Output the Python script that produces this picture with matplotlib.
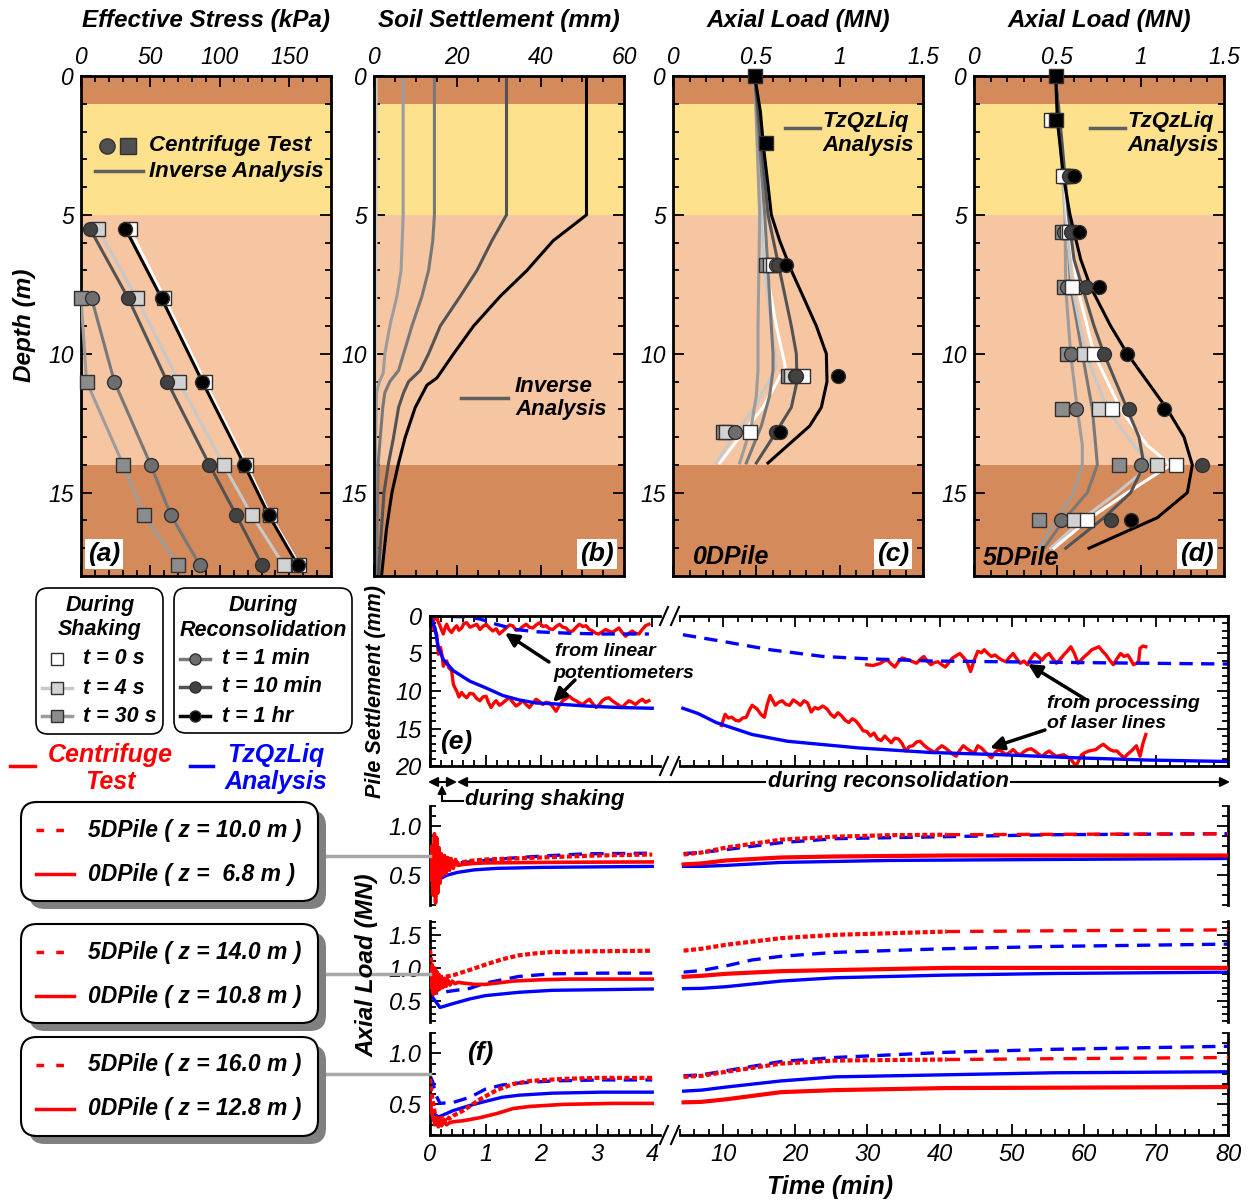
import matplotlib
matplotlib.use('Agg')
import matplotlib.pyplot as plt
from matplotlib.ticker import MultipleLocator, FormatStrFormatter, FuncFormatter
from matplotlib.patches import FancyBboxPatch

plt.rcParams['font.family'] = ['Liberation Sans', 'DejaVu Sans']
plt.rcParams['font.style'] = 'italic'

# ---------------- data: soil layers ----------------
layer_top = [0, 1, 5, 14]
layer_bot = [1, 5, 14, 18]
layer_col = ['#D58A5B', '#FDE18C', '#F6C5A2', '#D58A5B']

# ---------------- (a) effective stress ----------------
a_depth = [5.5, 8.0, 11.0, 14.0, 15.8, 17.6]
a_depth_b = [8.0, 11.0, 14.0, 15.8, 17.6]
a_0s = [35, 60, 89, 119, 136, 157]
a_4s = [12.4, 40, 70.5, 102.6, 122.9, 145.8]
a_30s = [0, 4, 30.4, 45.4, 69.8]
a_1m = [7.6, 24, 50.2, 64.6, 85.4]
a_10m = [6.5, 34, 62, 92.5, 111.7, 130.3]
a_1h = [32, 58, 87.3, 117.6, 135.1, 155.9]

# ---------------- (b) soil settlement ----------------
b_d_1h = [0, 5, 5.93, 7.0, 7.93, 9.0, 10.0, 10.87, 11.13, 11.93, 13.0, 13.93, 15.0, 16.3, 18]
b_1h = [51, 51, 43, 36.7, 30.3, 23.9, 19.1, 15.1, 12.7, 9.9, 7.5, 5.9, 4.3, 3.0, 1.8]
b_d_10m = [0, 5, 5.93, 7.0, 7.93, 9.0, 10.0, 10.6, 11.0, 11.4, 11.93, 13.0, 13.93, 15.0, 18]
b_10m = [31.8, 31.8, 28.3, 24.7, 20.7, 15.9, 13.1, 11.1, 8.3, 7.1, 5.9, 4.7, 3.5, 2.4, 1.0]
b_d_1m = [0, 5, 5.93, 7.0, 7.93, 9.0, 10.0, 10.6, 11.0, 11.4, 11.93, 13.93, 18]
b_1m = [14.5, 14.5, 14.1, 13.1, 11.5, 9.1, 7.1, 5.9, 3.8, 2.6, 2.1, 1.0, 0.6]
b_d_30s = [0, 5, 7.0, 7.93, 9.0, 10.0, 10.7, 11.0, 11.4, 13.93, 18]
b_30s = [7.0, 7.0, 6.5, 5.5, 3.8, 2.6, 2.2, 1.3, 0.6, 0.3, 0.2]
b_d_4s = [0, 5, 10, 11, 18]
b_4s = [0.5, 0.5, 0.4, 0.2, 0.1]

# ---------------- (c) 0DPile axial load ----------------
c_d_1h = [0, 1.27, 2.6, 3.93, 5, 5.93, 7, 7.93, 9, 10, 11, 11.93, 12.6, 13.93]
c_1h = [0.49, 0.524, 0.544, 0.57, 0.59, 0.64, 0.71, 0.78, 0.86, 0.92, 0.924, 0.89, 0.82, 0.57]
c_d_10m = [0, 2.5, 5, 7, 9, 10, 11, 11.93, 13, 13.93]
c_10m = [0.49, 0.53, 0.57, 0.64, 0.71, 0.74, 0.744, 0.71, 0.6, 0.5]
c_d_1m = [0, 2.5, 5, 7, 9, 10, 10.6, 11.5, 12.6, 13.93]
c_1m = [0.49, 0.52, 0.55, 0.57, 0.59, 0.60, 0.60, 0.58, 0.53, 0.44]
c_d_30s = [0, 5, 9, 10.6, 11.5, 12.6, 13.93]
c_30s = [0.49, 0.52, 0.51, 0.51, 0.50, 0.47, 0.40]
c_d_0s = [0, 5, 7, 9, 10.47, 11.93, 13, 13.93]
c_0s = [0.49, 0.54, 0.56, 0.62, 0.674, 0.54, 0.40, 0.28]
c_d_4s = [0, 5, 7, 9, 10.47, 11.93, 13, 13.93]
c_4s = [0.49, 0.53, 0.55, 0.59, 0.62, 0.49, 0.36, 0.26]
# measured
c_md = [6.8, 10.8, 12.8]
c_m30s = [0.56, 0.69, 0.30]
c_m4s = [0.58, 0.71, 0.32]
c_m0s = [0.60, 0.78, 0.46]
c_m1m = [0.62, 0.73, 0.37]
c_m10m = [0.63, 0.74, 0.62]
c_m1h = [0.68, 0.99, 0.64]
c_head_d = [0, 2.4]
c_head = [0.49, 0.56]

# ---------------- (d) 5DPile axial load ----------------
d_d_1h = [0, 1.6, 3.6, 5, 5.6, 6.6, 7.6, 9, 10, 11, 12, 13, 14, 15, 15.9, 17]
d_1h = [0.49, 0.5, 0.536, 0.576, 0.6, 0.64, 0.70, 0.82, 0.92, 1.04, 1.16, 1.26, 1.31, 1.28, 1.10, 0.69]
d_d_10m = [0, 2.5, 5, 6.6, 7.6, 9, 10, 12, 13, 14, 15, 15.9, 17]
d_10m = [0.49, 0.53, 0.566, 0.6, 0.65, 0.72, 0.78, 0.92, 0.99, 1.02, 0.94, 0.78, 0.55]
d_d = [0, 2.5, 5, 7.6, 10, 12, 13.3, 14, 15, 15.9, 17]
d_0s = [0.49, 0.53, 0.56, 0.62, 0.72, 0.88, 1.04, 1.18, 0.92, 0.70, 0.48]
d_4s = [0.49, 0.52, 0.55, 0.59, 0.67, 0.80, 0.96, 1.06, 0.86, 0.66, 0.46]
d_1m = [0.49, 0.52, 0.556, 0.58, 0.65, 0.71, 0.73, 0.74, 0.68, 0.55, 0.42]
d_30s = [0.49, 0.52, 0.546, 0.55, 0.58, 0.62, 0.65, 0.65, 0.60, 0.50, 0.39]
d_md = [3.6, 5.6, 7.6, 10, 12, 14, 16]
d_m30s = [0.55, 0.53, 0.54, 0.556, 0.53, 0.87, 0.39]
d_m1m = [0.56, 0.54, 0.56, 0.58, 0.61, 1.00, 0.52]
d_m4s = [0.55, 0.56, 0.60, 0.66, 0.75, 1.10, 0.60]
d_m0s = [0.536, 0.57, 0.59, 0.72, 0.83, 1.21, 0.68]
d_m10m = [0.57, 0.58, 0.67, 0.78, 0.93, 1.37, 0.82]
d_m1h = [0.60, 0.63, 0.75, 0.92, 1.14, float('nan'), 0.94]
d_head_d = [0, 1.6, 1.6]
d_head = [0.49, 0.49, 0.46]

# ---------------- (e) pile settlement vs time ----------------
e_up_t = [0, 0.03, 0.06, 0.09, 0.12, 0.15, 0.18, 0.21, 0.24, 0.27, 0.3, 0.34, 0.39, 0.43, 0.48, 0.52,
          0.57, 0.61, 0.66, 0.72, 0.78, 0.84, 0.9, 0.95, 1.01, 1.07, 1.13, 1.19, 1.25, 1.31, 1.37,
          1.43, 1.49, 1.55, 1.61, 1.67, 1.73, 1.79, 1.85, 1.91, 1.97, 2.03, 2.09, 2.15, 2.21, 2.27,
          2.33, 2.39, 2.45, 2.51, 2.57, 2.63, 2.69, 2.75, 2.81, 2.87, 2.93, 2.98, 3.04, 3.1, 3.16,
          3.22, 3.28, 3.34, 3.4, 3.46, 3.52, 3.58, 3.64, 3.7, 3.76, 3.82, 3.88, 3.94]
e_up = [0, 0.9, 0.7, 0.3, 0.2, 0.8, 1.3, 1.9, 2.4, 1.6, 1.1, 1.8, 2.2, 1.7, 1.3, 1.9,
        1.6, 1.0, 0.9, 1.5, 1.3, 1.1, 1.8, 1.4, 1.1, 1.6, 2.0, 1.7, 2.4, 2.0, 1.6,
        1.2, 1.3, 1.9, 1.8, 1.4, 1.1, 1.5, 1.6, 1.2, 0.9, 1.4, 1.3, 1.7, 1.8, 1.4,
        1.1, 1.5, 1.6, 2.1, 2.0, 1.5, 1.1, 1.4, 1.3, 1.8, 2.0, 2.3, 2.4, 2.1, 1.8,
        2.0, 2.2, 1.9, 1.6, 2.2, 2.7, 2.3, 2.0, 2.3, 2.4, 1.8, 1.3, 1.1]
e_lo_t = [0, 0.03, 0.06, 0.09, 0.12, 0.15, 0.19, 0.22, 0.24, 0.27, 0.3, 0.34, 0.39, 0.42, 0.45,
          0.48, 0.52, 0.57, 0.61, 0.66, 0.72, 0.78, 0.84, 0.9, 0.95, 1.01, 1.05, 1.1, 1.15, 1.19,
          1.25, 1.31, 1.37, 1.43, 1.49, 1.55, 1.61, 1.67, 1.73, 1.79, 1.85, 1.91, 1.97, 2.03,
          2.09, 2.15, 2.21, 2.27, 2.33, 2.39, 2.45, 2.51, 2.57, 2.63, 2.69, 2.75, 2.81, 2.87,
          2.93, 2.99, 3.05, 3.1, 3.16, 3.22, 3.28, 3.34, 3.4, 3.46, 3.52, 3.58, 3.64, 3.7, 3.76,
          3.82, 3.88, 3.94]
e_lo = [0.2, 0.9, 1.6, 2.0, 2.4, 5.1, 4.2, 5.5, 6.7, 6.2, 6.0, 6.9, 7.3, 9.1, 9.6,
        10.0, 10.8, 10.2, 10.6, 10.9, 10.3, 10.4, 11.0, 11.3, 10.8, 10.7, 11.5, 12.2, 11.6, 11.3,
        11.9, 11.6, 11.2, 10.9, 11.5, 12.0, 11.7, 11.3, 11.8, 12.2, 11.6, 11.1, 11.4, 11.8,
        11.5, 11.6, 12.1, 12.7, 11.9, 11.3, 11.0, 10.7, 11.1, 11.3, 11.6, 11.8, 11.4, 11.1,
        11.7, 12.2, 11.8, 11.3, 11.0, 10.9, 11.3, 11.6, 11.9, 12.2, 11.7, 11.3, 11.5, 11.8, 11.4,
        11.1, 11.5, 11.3]
e_bs_t = [0, 0.09, 0.15, 0.24, 0.42, 0.72, 1.01, 1.31, 1.61, 1.91, 2.21, 2.81, 3.4, 4.0]
e_bs = [0, 1.6, 4.2, 5.8, 7.3, 8.7, 9.6, 10.6, 11.2, 11.6, 11.7, 12.0, 12.2, 12.3]
e_bd_t = [0, 0.6, 0.9, 1.19, 1.55, 1.91, 2.5, 3.1, 3.94]
e_bd = [0, 0.1, 0.4, 1.1, 1.8, 2.1, 2.3, 2.4, 2.4]
# reconsolidation (laser lines)
e_rup_t = [29.9, 30.8, 31.8, 32.3, 32.8, 33.3, 33.8, 34.3, 34.8, 35.8, 36.8, 37.3, 37.8, 38.3, 38.8,
           39.3, 39.8, 40.3, 40.8, 41.3, 41.8, 42.3, 42.8, 43.3, 43.8, 44.3, 44.8, 45.3, 45.8,
           46.2, 46.7, 47.2, 47.7, 48.2, 48.7, 49.2, 49.7, 50.2, 50.7, 51.2, 51.7, 52.2, 52.7,
           53.2, 53.7, 54.2, 54.7, 55.2, 55.7, 56.2, 56.7, 57.2, 57.7, 58.2, 58.7, 59.2, 59.7,
           60.1, 60.6, 61.1, 61.6, 62.1, 62.6, 63.1, 63.6, 64.1, 64.6, 65.1, 65.6, 66.1, 66.5,
           66.9, 67.3, 67.6, 67.8, 68.2, 68.6]
e_rup = [6.5, 6.6, 6.3, 6.0, 5.9, 6.4, 6.8, 6.1, 5.6, 5.9, 6.3, 5.8, 5.4, 6.0, 6.5,
         6.2, 6.1, 6.5, 6.8, 6.2, 5.6, 5.3, 5.0, 5.5, 6.1, 7.4, 5.9, 4.7, 4.9,
         4.5, 5.0, 5.4, 5.2, 5.6, 5.9, 6.1, 5.5, 5.0, 5.7, 6.3, 6.0, 6.5, 5.6,
         5.0, 5.4, 5.9, 5.3, 5.0, 5.7, 6.3, 5.8, 5.2, 4.7, 4.1, 5.0, 6.3, 5.8,
         5.4, 5.0, 4.5, 4.3, 4.1, 4.7, 5.2, 5.9, 6.5, 5.7, 5.0, 5.4, 5.2, 5.8,
         6.5, 6.3, 6.1, 4.3, 4.0, 4.1]
e_rlo_t = [9.75, 10.25, 10.7, 11.2, 11.7, 12.2, 12.7, 13.2, 13.6, 14.0, 14.7, 15.2, 15.7, 16.1,
           16.5, 17.2, 17.7, 18.2, 18.7, 19.2, 19.7, 20.2, 20.7, 21.2, 21.7, 22.2, 22.7, 23.2,
           23.8, 24.4, 24.9, 25.4, 25.9, 26.4, 26.9, 27.4, 27.9, 28.4, 28.9, 29.4, 29.9, 30.4,
           30.9, 31.4, 31.9, 32.4, 32.9, 33.3, 33.8, 34.3, 34.8, 35.3, 35.8, 36.3, 36.8, 37.3,
           37.8, 38.3, 38.8, 39.3, 39.8, 40.3, 40.8, 41.3, 41.8, 42.3, 42.8, 43.3, 43.8, 44.3,
           44.8, 45.3, 45.8, 46.2, 46.7, 47.2, 47.7, 48.2, 48.7, 49.2, 49.7, 50.2, 50.7, 51.2,
           51.7, 52.2, 52.7, 53.2, 53.7, 54.2, 54.7, 55.2, 55.7, 56.2, 56.7, 57.2, 57.7, 58.2,
           58.9, 59.7, 60.2, 60.7, 61.2, 61.7, 62.2, 62.7, 63.2, 63.6, 64.1, 64.6, 65.1, 65.6,
           66.1, 66.6, 67.3, 67.8, 68.2, 68.6]
e_rlo = [14.6, 13.1, 13.6, 13.5, 13.9, 14.0, 13.6, 13.5, 12.6, 11.9, 12.4, 13.1, 13.5, 11.8,
         10.6, 11.9, 11.5, 11.3, 11.8, 11.9, 11.2, 11.5, 11.9, 11.3, 11.6, 12.8, 12.2, 12.4,
         12.0, 12.4, 13.1, 13.5, 12.9, 13.3, 13.9, 14.2, 13.7, 14.0, 14.6, 15.3, 15.4, 16.0,
         15.6, 16.4, 16.6, 16.0, 16.5, 16.9, 16.3, 16.4, 17.0, 18.0, 17.4, 17.3, 16.8, 16.7,
         17.2, 17.6, 17.9, 18.2, 17.7, 17.3, 17.6, 18.0, 18.4, 18.7, 17.9, 17.3, 17.7, 18.0,
         18.3, 17.3, 17.6, 18.0, 18.5, 18.9, 18.2, 17.8, 18.1, 18.5, 18.2, 17.8, 18.3, 18.5,
         18.1, 17.8, 17.7, 18.0, 18.4, 18.7, 18.3, 18.0, 18.4, 18.7, 18.6, 18.5, 18.8, 19.1,
         20.0, 18.5, 18.2, 18.0, 17.9, 17.8, 17.4, 17.1, 17.5, 17.8, 18.0, 18.0, 18.5, 18.9,
         18.4, 18.0, 17.3, 18.7, 17.0, 15.8]
e_rbs_t = [4.4, 6.5, 9.0, 14.0, 18.9, 28.9, 38.8, 48.7, 58.7, 68.6, 80]
e_rbs = [12.3, 13.0, 14.2, 15.8, 16.7, 17.6, 18.2, 18.5, 18.9, 19.2, 19.4]
e_rbd_t = [4.4, 10, 16.5, 23.9, 29.9, 38.8, 48.7, 58.7, 68.6, 80]
e_rbd = [2.5, 3.4, 4.5, 5.4, 5.7, 6.0, 6.1, 6.2, 6.3, 6.4]

# ---------------- (f) axial load vs time ----------------
# row 1: 5DPile z=10.0 m / 0DPile z=6.8 m
f1_rs_t = [0, 0.02, 0.04, 0.06, 0.08, 0.10, 0.12, 0.14, 0.16, 0.18, 0.20, 0.23, 0.26, 0.29, 0.32,
           0.35, 0.38, 0.42, 0.46, 0.5, 0.6, 0.8, 1.0, 2.0, 3.0, 4.0]
f1_rs = [0.62, 0.45, 0.80, 0.30, 0.92, 0.22, 0.88, 0.32, 0.78, 0.42, 0.72, 0.50, 0.70, 0.52, 0.68,
         0.55, 0.67, 0.57, 0.66, 0.60, 0.61, 0.62, 0.625, 0.63, 0.633, 0.635]
f1_rd_t = [0, 0.05, 0.1, 0.15, 0.2, 0.3, 0.4, 0.5, 0.7, 1.0, 1.5, 2.0, 3.0, 4.0]
f1_rd = [0.62, 0.55, 0.62, 0.56, 0.63, 0.60, 0.64, 0.62, 0.645, 0.66, 0.67, 0.68, 0.70, 0.71]
f1_bs_t = [0, 0.05, 0.12, 0.2, 0.3, 0.5, 0.8, 1.2, 2.0, 3.0, 4.0]
f1_bs = [0.55, 0.50, 0.45, 0.47, 0.50, 0.53, 0.555, 0.57, 0.58, 0.585, 0.59]
f1_bd_t = [0, 0.05, 0.1, 0.42, 1.0, 1.6, 2.2, 2.8, 4.0]
f1_bd = [0.75, 0.65, 0.58, 0.62, 0.65, 0.68, 0.70, 0.717, 0.723]
f1_Rrd_t = [4.5, 7.0, 10.4, 18, 25.5, 33, 41]
f1_Rrd = [0.71, 0.73, 0.78, 0.86, 0.89, 0.905, 0.91]
f1_Xrd_t = [41, 60, 80]
f1_Xrd = [0.91, 0.915, 0.92]
f1_Rrs_t = [4.5, 7.0, 10.4, 18, 25.5, 41, 80]
f1_Rrs = [0.61, 0.62, 0.65, 0.68, 0.69, 0.70, 0.70]
f1_Rbd_t = [4.5, 7.0, 10.4, 18, 25.5, 40.7, 55.8, 80]
f1_Rbd = [0.72, 0.73, 0.76, 0.83, 0.87, 0.89, 0.91, 0.92]
f1_Rbs_t = [4.5, 7.0, 10.4, 18, 33, 55.8, 80]
f1_Rbs = [0.59, 0.59, 0.60, 0.63, 0.65, 0.66, 0.67]
# row 2: 5DPile z=14.0 m / 0DPile z=10.8 m
f2_rs_t = [0, 0.02, 0.04, 0.06, 0.08, 0.10, 0.12, 0.14, 0.16, 0.18, 0.20, 0.23, 0.26, 0.29, 0.32,
           0.36, 0.40, 0.45, 0.5, 0.6, 0.8, 1.0, 1.2, 1.5, 2.0, 2.5, 3.0, 4.0]
f2_rs = [0.95, 0.70, 1.05, 0.60, 1.00, 0.62, 0.95, 0.66, 0.90, 0.68, 0.86, 0.70, 0.84, 0.72, 0.82,
         0.74, 0.80, 0.76, 0.78, 0.77, 0.75, 0.75, 0.77, 0.80, 0.82, 0.83, 0.83, 0.83]
f2_rd_t = [0, 0.03, 0.06, 0.1, 0.15, 0.2, 0.3, 0.42, 0.72, 1.0, 1.3, 1.6, 1.9, 2.2, 2.8, 4.0]
f2_rd = [1.27, 1.05, 0.95, 0.88, 0.85, 0.86, 0.87, 0.89, 0.97, 1.05, 1.13, 1.19, 1.22, 1.24, 1.25, 1.26]
f2_bs_t = [0, 0.05, 0.18, 0.42, 0.72, 1.0, 1.6, 2.2, 3.1, 4.0]
f2_bs = [0.67, 0.55, 0.40, 0.46, 0.53, 0.58, 0.63, 0.66, 0.67, 0.68]
f2_bd_t = [0, 0.05, 0.12, 0.3, 0.72, 1.0, 1.3, 1.6, 2.2, 3.1, 4.0]
f2_bd = [1.12, 0.85, 0.62, 0.64, 0.69, 0.77, 0.82, 0.87, 0.91, 0.92, 0.92]
f2_Rrd_t = [4.5, 7.0, 10.4, 18, 25.5, 41]
f2_Rrd = [1.26, 1.29, 1.35, 1.45, 1.50, 1.55]
f2_Xrd_t = [41, 60, 80]
f2_Xrd = [1.55, 1.565, 1.575]
f2_Rrs_t = [4.5, 7.0, 10.4, 18, 41, 80]
f2_Rrs = [0.865, 0.88, 0.91, 0.95, 1.0, 1.0]
f2_Rbd_t = [4.5, 7.0, 10.4, 14, 18, 25.5, 40.7, 55.8, 80]
f2_Rbd = [0.935, 0.96, 1.03, 1.12, 1.175, 1.235, 1.29, 1.325, 1.36]
f2_Rbs_t = [4.5, 7.0, 10.4, 18, 25.5, 40.7, 55.8, 80]
f2_Rbs = [0.685, 0.69, 0.715, 0.80, 0.85, 0.89, 0.915, 0.935]
# row 3: 5DPile z=16.0 m / 0DPile z=12.8 m
f3_rs_t = [0, 0.03, 0.06, 0.09, 0.12, 0.15, 0.18, 0.21, 0.25, 0.3, 0.35, 0.42, 0.6, 0.9, 1.2,
           1.5, 1.8, 2.4, 3.3, 4.0]
f3_rs = [0.55, 0.42, 0.36, 0.30, 0.36, 0.28, 0.34, 0.29, 0.33, 0.30, 0.32, 0.33, 0.34, 0.37, 0.41,
         0.46, 0.48, 0.50, 0.51, 0.51]
f3_rd_t = [0, 0.03, 0.06, 0.09, 0.12, 0.15, 0.18, 0.22, 0.26, 0.3, 0.35, 0.42, 0.6, 0.9, 1.2,
           1.5, 1.8, 2.4, 3.0, 4.0]
f3_rd = [0.75, 0.60, 0.50, 0.40, 0.35, 0.38, 0.32, 0.37, 0.33, 0.38, 0.36, 0.39, 0.44, 0.55, 0.64,
         0.70, 0.73, 0.75, 0.76, 0.76]
f3_bs_t = [0, 0.05, 0.15, 0.42, 0.72, 1.0, 1.3, 1.6, 2.2, 3.1, 4.0]
f3_bs = [0.46, 0.42, 0.376, 0.44, 0.49, 0.53, 0.57, 0.59, 0.61, 0.62, 0.62]
f3_bd_t = [0, 0.05, 0.1, 0.18, 0.42, 0.72, 1.0, 1.3, 1.6, 2.2, 3.1, 4.0]
f3_bd = [0.78, 0.72, 0.60, 0.51, 0.52, 0.57, 0.65, 0.69, 0.71, 0.73, 0.74, 0.74]
f3_Rrd_t = [4.5, 7.0, 10.4, 18, 25.5, 41]
f3_Rrd = [0.77, 0.78, 0.82, 0.90, 0.93, 0.94]
f3_Xrd_t = [41, 60, 80]
f3_Xrd = [0.94, 0.95, 0.96]
f3_Rrs_t = [4.5, 7.0, 10.4, 18, 25.5, 40.7, 80]
f3_Rrs = [0.52, 0.525, 0.55, 0.62, 0.64, 0.66, 0.67]
f3_Rbd_t = [4.5, 7.0, 10.4, 18, 25.5, 40.7, 55.8, 80]
f3_Rbd = [0.78, 0.79, 0.83, 0.92, 0.96, 1.01, 1.04, 1.07]
f3_Rbs_t = [4.5, 7.0, 10.4, 18, 25.5, 40.7, 55.8, 80]
f3_Rbs = [0.63, 0.64, 0.67, 0.73, 0.77, 0.79, 0.81, 0.82]

f_box_labels = [("5DPile ( z = 10.0 m )", "0DPile ( z =  6.8 m )"),
                ("5DPile ( z = 14.0 m )", "0DPile ( z = 10.8 m )"),
                ("5DPile ( z = 16.0 m )", "0DPile ( z = 12.8 m )")]

# ---------------- styling ----------------
C0, C4, C30, C1M, C10, C1H = 'white', '#C8C8C8', '#9C9C9C', '#787878', '#535353', 'black'
M4, M30, M1M, M10 = '#D2D2D2', '#8C8C8C', '#6E6E6E', '#424242'
RED, BLUE = '#FF0000', '#0000FF'
BI = dict(fontweight='bold', fontstyle='italic')

W, H = 1255, 1201
fig = plt.figure(figsize=(W / 100, H / 100), dpi=100)


def px_ax(l, t, r, b):
    return fig.add_axes([l / W, 1 - b / H, (r - l) / W, (b - t) / H])


def top_panel(l, xmax, xmaj, xmin, fmt):
    ax = px_ax(l, 76, l + 250, 576)
    for t0, b0, c in zip(layer_top, layer_bot, layer_col):
        ax.axhspan(t0, b0, color=c, lw=0, zorder=0)
    ax.set_xlim(0, xmax)
    ax.set_ylim(18, 0)
    ax.xaxis.set_major_locator(MultipleLocator(xmaj))
    ax.xaxis.set_minor_locator(MultipleLocator(xmin))
    ax.yaxis.set_major_locator(MultipleLocator(5))
    ax.yaxis.set_minor_locator(MultipleLocator(1))
    ax.xaxis.set_major_formatter(FuncFormatter(fmt))
    ax.tick_params(which='both', direction='in', top=True, bottom=True, left=True, right=True,
                   labeltop=True, labelbottom=False, labelsize=16.5, width=1.3, pad=5)
    ax.tick_params(which='major', length=8)
    ax.tick_params(which='minor', length=4)
    for s in ax.spines.values():
        s.set_linewidth(2)
    return ax


def mk(ax, x, y, m, fc, ms=10, z=5):
    ax.plot(x, y, ls='none', marker=m, ms=ms, mfc=fc, mec='#303030', mew=1, zorder=z, clip_on=False)


# (a)
axA = top_panel(81, 180, 50, 10, lambda v, p: '%d' % v)
axA.plot(a_0s, a_depth, color=C0, lw=2.2, zorder=3)
axA.plot(a_4s, a_depth, color=C4, lw=2.2, zorder=3)
axA.plot(a_30s, a_depth_b, color=C30, lw=2.2, zorder=3)
axA.plot(a_1m, a_depth_b, color=C1M, lw=2.2, zorder=3)
axA.plot(a_10m, a_depth, color=C10, lw=2.2, zorder=3)
axA.plot(a_1h, a_depth, color=C1H, lw=2.2, zorder=3)
mk(axA, a_0s, a_depth, 's', 'white')
mk(axA, a_4s, a_depth, 's', M4)
mk(axA, a_30s, a_depth_b, 's', M30)
mk(axA, a_1m, a_depth_b, 'o', M1M)
mk(axA, a_10m, a_depth, 'o', M10)
mk(axA, a_1h, a_depth, 'o', 'black')

# (b)
axB = top_panel(374, 60, 20, 5, lambda v, p: '%d' % v)
axB.plot(b_4s, b_d_4s, color=C4, lw=2.2)
axB.plot(b_30s, b_d_30s, color=C30, lw=2.2)
axB.plot(b_1m, b_d_1m, color=C1M, lw=2.2)
axB.plot(b_10m, b_d_10m, color=C10, lw=2.2)
axB.plot(b_1h, b_d_1h, color=C1H, lw=2.2)

# (c)
axC = top_panel(673, 1.5, 0.5, 0.1, lambda v, p: '%g' % v)
axC.plot(c_0s, c_d_0s, color=C0, lw=2.2)
axC.plot(c_4s, c_d_4s, color=C4, lw=2.2)
axC.plot(c_30s, c_d_30s, color=C30, lw=2.2)
axC.plot(c_1m, c_d_1m, color=C1M, lw=2.2)
axC.plot(c_10m, c_d_10m, color=C10, lw=2.2)
axC.plot(c_1h, c_d_1h, color=C1H, lw=2.2)
mk(axC, c_m30s, c_md, 's', M30)
mk(axC, c_m4s, c_md, 's', M4)
mk(axC, c_m0s, c_md, 's', 'white')
mk(axC, c_m1m, c_md, 'o', M1M)
mk(axC, c_m10m, c_md, 'o', M10)
mk(axC, c_m1h, c_md, 'o', 'black')
mk(axC, c_head, c_head_d, 's', 'black')

# (d)
axD = top_panel(974, 1.5, 0.5, 0.1, lambda v, p: '%g' % v)
axD.plot(d_30s, d_d, color=C30, lw=2.2)
axD.plot(d_1m, d_d, color=C1M, lw=2.2)
axD.plot(d_4s, d_d, color=C4, lw=2.2)
axD.plot(d_0s, d_d, color=C0, lw=2.2)
axD.plot(d_10m, d_d_10m, color=C10, lw=2.2)
axD.plot(d_1h, d_d_1h, color=C1H, lw=2.2)
mk(axD, d_m30s, d_md, 's', M30)
mk(axD, d_m1m, d_md, 'o', M1M)
mk(axD, d_m4s, d_md, 's', M4)
mk(axD, d_m0s, d_md, 's', 'white')
mk(axD, d_m10m, d_md, 'o', M10)
mk(axD, d_m1h, d_md, 'o', 'black')
mk(axD, d_head[2:], d_head_d[2:], 's', 'white')
mk(axD, d_head[:2], d_head_d[:2], 's', 'black')


# ---------------- bottom panels ----------------
def bottom_pair(t, b, ylim, ymaj, ymin, box=False, xlabels=False):
    aL = px_ax(430, t, 660, b)
    aR = px_ax(680, t, 1228, b)
    aL.set_xlim(0, 4.14)
    aR.set_xlim(4, 80)
    for a in (aL, aR):
        a.set_ylim(*ylim)
        a.patch.set_alpha(0)
        a.yaxis.set_major_locator(MultipleLocator(ymaj))
        a.yaxis.set_minor_locator(MultipleLocator(ymin))
        for s in a.spines.values():
            s.set_linewidth(2)
        a.tick_params(which='major', length=8, width=1.3, labelsize=17)
        a.tick_params(which='minor', length=4, width=1.3)
    aL.xaxis.set_major_locator(MultipleLocator(1))
    aL.xaxis.set_minor_locator(MultipleLocator(0.2))
    aR.xaxis.set_major_locator(MultipleLocator(10))
    aR.xaxis.set_minor_locator(MultipleLocator(2))
    aR.xaxis.set_major_formatter(FormatStrFormatter('%d'))
    aL.spines['right'].set_visible(False)
    aR.spines['left'].set_visible(False)
    aL.tick_params(which='both', direction='in', left=True, right=False, top=box, bottom=box or xlabels,
                   labelbottom=xlabels, pad=6)
    aR.tick_params(which='both', direction='in', left=False, right=True, labelleft=False, top=box,
                   bottom=box or xlabels, labelbottom=xlabels, pad=6)
    if not box:
        for a in (aL, aR):
            a.spines['top'].set_visible(False)
            if not xlabels:
                a.spines['bottom'].set_visible(False)
    return aL, aR


eL, eR = bottom_pair(616, 766, (20, 0), 5, 1, box=True)
eL.yaxis.set_major_formatter(FormatStrFormatter('%d'))
eL.plot(e_up_t, e_up, color=RED, lw=2.4)
eL.plot(e_lo_t, e_lo, color=RED, lw=2.4)
eL.plot(e_bs_t, e_bs, color=BLUE, lw=2.4)
eL.plot(e_bd_t, e_bd, color=BLUE, lw=2.4, dashes=(4, 2.5))
eR.plot(e_rup_t, e_rup, color=RED, lw=2.4)
eR.plot(e_rlo_t, e_rlo, color=RED, lw=2.4)
eR.plot(e_rbs_t, e_rbs, color=BLUE, lw=2.4)
eR.plot(e_rbd_t, e_rbd, color=BLUE, lw=2.4, dashes=(4, 2.5))

rows = [
    (806, 905, (0.2, 1.2), f1_rs_t, f1_rs, f1_rd_t, f1_rd, f1_bs_t, f1_bs, f1_bd_t, f1_bd,
     f1_Rrd_t, f1_Rrd, f1_Xrd_t, f1_Xrd, f1_Rrs_t, f1_Rrs, f1_Rbd_t, f1_Rbd, f1_Rbs_t, f1_Rbs),
    (921, 1022, (0.18, 1.71), f2_rs_t, f2_rs, f2_rd_t, f2_rd, f2_bs_t, f2_bs, f2_bd_t, f2_bd,
     f2_Rrd_t, f2_Rrd, f2_Xrd_t, f2_Xrd, f2_Rrs_t, f2_Rrs, f2_Rbd_t, f2_Rbd, f2_Rbs_t, f2_Rbs),
    (1033, 1135, (0.2, 1.2), f3_rs_t, f3_rs, f3_rd_t, f3_rd, f3_bs_t, f3_bs, f3_bd_t, f3_bd,
     f3_Rrd_t, f3_Rrd, f3_Xrd_t, f3_Xrd, f3_Rrs_t, f3_Rrs, f3_Rbd_t, f3_Rbd, f3_Rbs_t, f3_Rbs),
]
for i, row in enumerate(rows):
    (t, b, yl, rs_t, rs, rd_t, rd, bs_t, bs, bd_t, bd,
     Rrd_t, Rrd, Xrd_t, Xrd, Rrs_t, Rrs, Rbd_t, Rbd, Rbs_t, Rbs) = row
    aL, aR = bottom_pair(t, b, yl, 0.5, 0.1, xlabels=(i == 2))
    aL.yaxis.set_major_formatter(FormatStrFormatter('%.1f'))
    aL.plot(bs_t, bs, color=BLUE, lw=2.4, zorder=2)
    aL.plot(bd_t, bd, color=BLUE, lw=2.4, dashes=(4, 2.5), zorder=2)
    aL.plot(rd_t, rd, color=RED, lw=3.0, dashes=(1.2, 0.6), zorder=3)
    aL.plot(rs_t, rs, color=RED, lw=2.6, zorder=3)
    aR.plot(Rbs_t, Rbs, color=BLUE, lw=2.4, zorder=2)
    aR.plot(Rbd_t, Rbd, color=BLUE, lw=2.4, dashes=(4, 2.5), zorder=2)
    aR.plot(Rrd_t, Rrd, color=RED, lw=3.0, dashes=(1.2, 0.6), zorder=3)
    aR.plot(Xrd_t, Xrd, color=RED, lw=2.4, dashes=(4, 3), zorder=3)
    aR.plot(Rrs_t, Rrs, color=RED, lw=3.0, zorder=3)

# ---------------- overlay (pixel coordinates) ----------------
ov = fig.add_axes([0, 0, 1, 1])
ov.set_xlim(0, W)
ov.set_ylim(H, 0)
ov.axis('off')
ov.set_zorder(10)

# titles & axis labels
for xc, s in [(206, 'Effective Stress (kPa)'), (499, 'Soil Settlement (mm)'),
              (798, 'Axial Load (MN)'), (1099, 'Axial Load (MN)')]:
    ov.text(xc, 20, s, ha='center', va='center', fontsize=17.5, **BI)
ov.text(25, 325, 'Depth (m)', rotation=90, ha='center', va='center', fontsize=17.5, **BI)
ov.text(375, 692, 'Pile Settlement (mm)', rotation=90, ha='center', va='center', fontsize=15.5, **BI)
ov.text(367, 965, 'Axial Load (MN)', rotation=90, ha='center', va='center', fontsize=17.5, **BI)
ov.text(830, 1187, 'Time (min)', ha='center', va='center', fontsize=18, **BI)

# panel labels
for xc, s in [(104, '(a)'), (597, '(b)'), (893, '(c)'), (1197, '(d)')]:
    ov.text(xc, 554, s, ha='center', va='center', fontsize=19, **BI,
            bbox=dict(boxstyle='square,pad=0.12', fc='white', ec='none'))
ov.text(693, 557, '0DPile', ha='left', va='center', fontsize=18, **BI)
ov.text(983, 558, '5DPile', ha='left', va='center', fontsize=18, **BI)
ov.text(440, 742, '(e)', ha='left', va='center', fontsize=19, **BI)
ov.text(467, 1053, '(f)', ha='left', va='center', fontsize=19, **BI)

# (a) legend
ov.plot([107], [146], marker='o', ms=11, mfc='#505050', mec='#333333')
ov.plot([128], [146], marker='s', ms=11, mfc='#505050', mec='#333333')
ov.plot([95, 143], [171, 171], color='#606060', lw=2.5)
ov.text(149, 146, 'Centrifuge Test', ha='left', va='center', fontsize=16, **BI)
ov.text(149, 171, 'Inverse Analysis', ha='left', va='center', fontsize=16, **BI)
# (b) legend
ov.plot([461, 508], [398, 398], color='#606060', lw=2.5)
ov.text(515, 386, 'Inverse', ha='left', va='center', fontsize=16, **BI)
ov.text(515, 410, 'Analysis', ha='left', va='center', fontsize=16, **BI)
# (c),(d) legends
for x0 in (785, 1090):
    ov.plot([x0, x0 + 35], [128, 128], color='#606060', lw=2.5)
    ov.text(x0 + 37, 121, 'TzQzLiq', ha='left', va='center', fontsize=16, **BI)
    ov.text(x0 + 37, 146, 'Analysis', ha='left', va='center', fontsize=16, **BI)

# time legend boxes
for (x0, y0, w, h) in [(36, 588, 127, 146), (174, 588, 178, 145)]:
    ov.add_patch(FancyBboxPatch((x0, y0), w, h, boxstyle='round,pad=0,rounding_size=12',
                                fc='white', ec='black', lw=1.2))
ov.text(100, 606, 'During', ha='center', va='center', fontsize=15.5, **BI)
ov.text(100, 630, 'Shaking', ha='center', va='center', fontsize=15.5, **BI)
ov.text(263, 606, 'During', ha='center', va='center', fontsize=15.5, **BI)
ov.text(263, 630, 'Reconsolidation', ha='center', va='center', fontsize=15.5, **BI)
ov.plot([57], [659], marker='s', ms=8, mfc='white', mec='#303030')
ov.plot([42, 72], [688, 688], color=C4, lw=2.5, zorder=2)
ov.plot([57], [688], marker='s', ms=8, mfc=M4, mec='#303030')
ov.plot([42, 72], [716, 716], color=C30, lw=2.5)
ov.plot([57], [716], marker='s', ms=8, mfc=M30, mec='#303030')
for yy, s in [(659, 't = 0 s'), (688, 't = 4 s'), (716, 't = 30 s')]:
    ov.text(83, yy, s, ha='left', va='center', fontsize=15.5, **BI)
for yy, lc, mc, s in [(659, C1M, M1M, 't = 1 min'), (687, C10, M10, 't = 10 min'),
                      (716, C1H, 'black', 't = 1 hr')]:
    ov.plot([180, 210], [yy, yy], color=lc, lw=2.5)
    ov.plot([195], [yy], marker='o', ms=8, mfc=mc, mec='#303030')
    ov.text(222, yy, s, ha='left', va='center', fontsize=15.5, **BI)

# color legend
ov.plot([10, 35], [766, 766], color=RED, lw=2.5)
ov.text(110, 755, 'Centrifuge', ha='center', va='center', fontsize=18, color=RED, **BI)
ov.text(110, 782, 'Test', ha='center', va='center', fontsize=18, color=RED, **BI)
ov.plot([190, 213], [766, 766], color=BLUE, lw=2.5)
ov.text(276, 755, 'TzQzLiq', ha='center', va='center', fontsize=18, color=BLUE, **BI)
ov.text(276, 782, 'Analysis', ha='center', va='center', fontsize=18, color=BLUE, **BI)

# depth boxes with shadow
for (y0, yc), (s1, s2) in zip([(802, 856), (924, 974), (1037, 1074)], f_box_labels):
    ov.plot([324, 430], [yc, yc], color='#A8A8A8', lw=2.5, zorder=1)
    ov.add_patch(FancyBboxPatch((29, y0 + 8), 297, 99, boxstyle='round,pad=0,rounding_size=16',
                                fc='#808080', ec='none', zorder=2))
    ov.add_patch(FancyBboxPatch((21, y0), 297, 99, boxstyle='round,pad=0,rounding_size=16',
                                fc='white', ec='black', lw=1.5, zorder=3))
    ov.plot([36, 74], [y0 + 28, y0 + 28], color=RED, lw=2.5, dashes=(2.2, 3.5), zorder=4)
    ov.plot([36, 74], [y0 + 72, y0 + 72], color=RED, lw=2.5, zorder=4)
    ov.text(88, y0 + 28, s1, ha='left', va='center', fontsize=16.5, zorder=4, **BI)
    ov.text(88, y0 + 72, s2, ha='left', va='center', fontsize=16.5, zorder=4, **BI)

# break marks
for yb in (616, 766, 1135):
    for xb in (664, 675):
        ov.plot([xb - 4, xb + 4], [yb + 9, yb - 9], color='black', lw=1.5)

# annotations in (e)
ap = dict(arrowstyle='-|>', lw=2.5, color='black', mutation_scale=20, shrinkA=0, shrinkB=0)
ov.text(555, 651, 'from linear', ha='left', va='center', fontsize=14, **BI)
ov.text(553, 673, 'potentiometers', ha='left', va='center', fontsize=14, **BI)
ov.annotate('', xy=(505, 633), xytext=(549, 662), arrowprops=ap)
ov.annotate('', xy=(553, 702), xytext=(575, 680), arrowprops=ap)
ov.text(1047, 703, 'from processing', ha='left', va='center', fontsize=14, **BI)
ov.text(1047, 724, 'of laser lines', ha='left', va='center', fontsize=14, **BI)
ov.annotate('', xy=(1028, 664), xytext=(1085, 699), arrowprops=ap)
ov.annotate('', xy=(990, 748), xytext=(1045, 730), arrowprops=ap)

# shaking / reconsolidation arrows
ap2 = dict(arrowstyle='<|-|>', lw=1.5, color='black', mutation_scale=14, shrinkA=0, shrinkB=0)
ov.annotate('', xy=(428, 782), xytext=(457, 782), arrowprops=ap2)
ov.annotate('', xy=(457, 782), xytext=(1230, 782), arrowprops=ap2)
ov.text(888, 782, 'during reconsolidation', ha='center', va='center', fontsize=16,
        bbox=dict(boxstyle='square,pad=0.05', fc='white', ec='none'), **BI)
ov.annotate('', xy=(442, 785), xytext=(442, 801),
            arrowprops=dict(arrowstyle='-|>', lw=1.5, color='black', mutation_scale=12,
                            shrinkA=0, shrinkB=0))
ov.plot([442, 463], [801, 801], color='black', lw=1.5)
ov.text(465, 800, 'during shaking', ha='left', va='center', fontsize=16, **BI)

fig.savefig('out.png', dpi=100)
